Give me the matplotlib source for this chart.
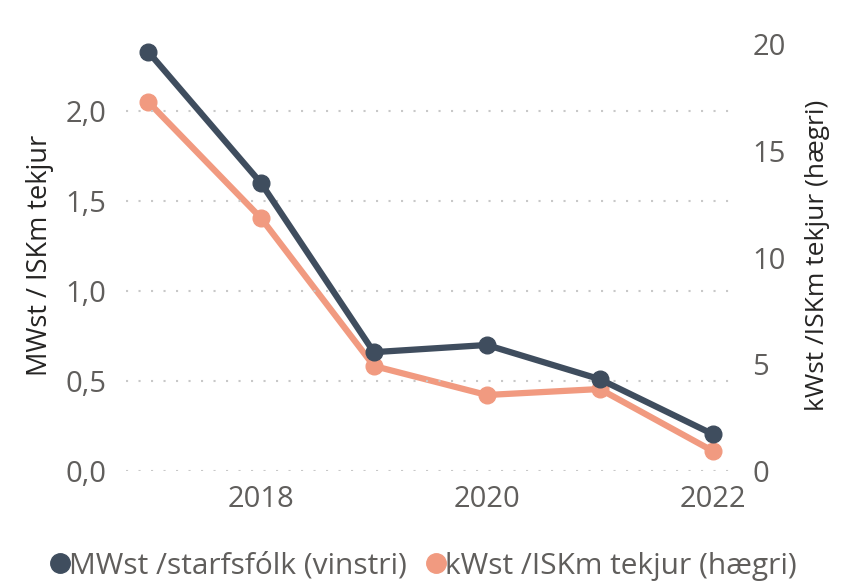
import matplotlib
matplotlib.use("Agg")
import matplotlib.pyplot as plt
from matplotlib.ticker import FuncFormatter
from matplotlib.lines import Line2D

years = [2017, 2018, 2019, 2020, 2021, 2022]
mwst_starfsfolk = [2.33, 1.60, 0.66, 0.70, 0.51, 0.205]   # vinstri ás
kwst_iskm = [17.3, 11.85, 4.92, 3.56, 3.84, 0.94]         # hægri ás

left_ticks = [0.0, 0.5, 1.0, 1.5, 2.0]
right_ticks = [0, 5, 10, 15, 20]
x_ticks = [2018, 2020, 2022]
labels = ["MWst /starfsfólk (vinstri)", "kWst /ISKm tekjur (hægri)"]

dark = "#3f4d5e"
orange = "#f19a80"
tick_col = "#605e5c"

plt.rcParams["font.family"] = ["Open Sans", "DejaVu Sans"]

fig = plt.figure(figsize=(8.52, 5.88), dpi=100)
ax = fig.add_axes([126 / 852, 117 / 588, 607 / 852, 431 / 588])
ax2 = ax.twinx()

ax.plot(years, mwst_starfsfolk, color=dark, lw=4.5, marker="o", ms=12, zorder=4,
        clip_on=False)
ax2.plot(years, kwst_iskm, color=orange, lw=4.5, marker="o", ms=12, zorder=3,
         clip_on=False)
ax.set_zorder(ax2.get_zorder() + 1)
ax.patch.set_visible(False)

ax.set_xlim(2016.805, 2022.18)
ax.set_ylim(0, 2.394)
ax2.set_ylim(0, 20.19)

ax.set_xticks(x_ticks)
ax.set_yticks(left_ticks)
ax2.set_yticks(right_ticks)
ax.yaxis.set_major_formatter(FuncFormatter(lambda v, p: f"{v:.1f}".replace(".", ",")))

ax.grid(axis="y", color="#c8c8c8", linestyle=(0, (1, 5)), lw=1.5)
for a in (ax, ax2):
    for s in a.spines.values():
        s.set_visible(False)
    a.tick_params(length=0, labelsize=21, labelcolor=tick_col, pad=14)
ax.tick_params(axis="x", pad=10)

ax.set_ylabel("MWst / ISKm tekjur", fontsize=19.5, color="#252423", labelpad=8)
ax2.set_ylabel("kWst /ISKm tekjur (hægri)", fontsize=19, color="#252423", labelpad=14)

handles = [Line2D([], [], color=dark, marker="o", ls="", ms=14),
           Line2D([], [], color=orange, marker="o", ls="", ms=14)]
fig.legend(handles, labels, loc="center", bbox_to_anchor=(0.494, 0.037), ncol=2,
           frameon=False, fontsize=21.5, labelcolor=tick_col, handletextpad=-0.2,
           columnspacing=0.5, handlelength=1.0)

fig.savefig("out.png", dpi=100)
